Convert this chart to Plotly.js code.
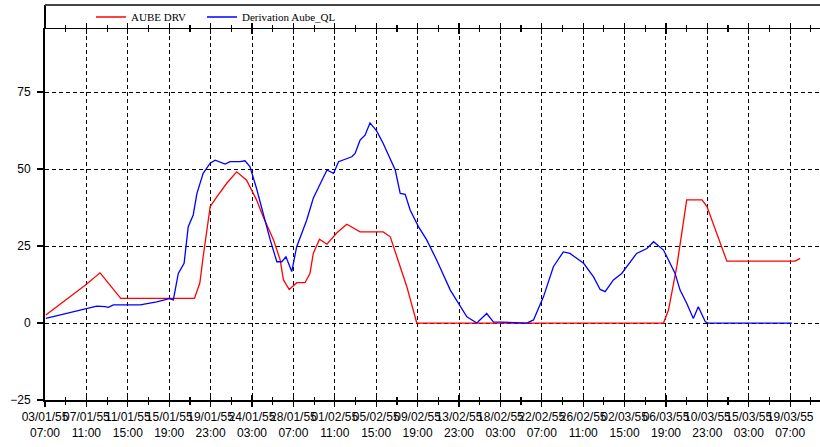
<!DOCTYPE html>
<html><head><meta charset="utf-8">
<script src="https://cdn.plot.ly/plotly-3.0.1.min.js"></script>
<style>html,body{margin:0;padding:0;background:#fff}#chart{width:820px;height:447px}</style>
</head><body><div id="chart"></div>
<script>
// x values: hours since 03/01/55 07:00
const tickHours = [0,100,200,300,400,500,600,700,800,900,1000,1100,1200,1300,1400,1500,1600,1700,1800];
const tickDates = ['03/01/55','07/01/55','11/01/55','15/01/55','19/01/55','24/01/55','28/01/55','01/02/55','05/02/55','09/02/55','13/02/55','18/02/55','22/02/55','26/02/55','02/03/55','06/03/55','10/03/55','15/03/55','19/03/55'];
const tickTimes = ['07:00','11:00','15:00','19:00','23:00','03:00','07:00','11:00','15:00','19:00','23:00','03:00','07:00','11:00','15:00','19:00','23:00','03:00','07:00'];
const yTicks = [-25,0,25,50,75];

const aubeHours = [2,97,133,183,361,374,382,399,415,439,463,487,511,527,552,568,576,590,608,628,640,648,663,681,705,729,761,817,834,850,874,898,1494,1506,1526,1550,1587,1599,1647,1812,1824];
const aubeValues = [2.6,12.3,16.3,8,8,13,21.5,37.8,41,45.4,49.1,46.4,40,34.5,27,20.5,14,10.9,13.1,13.1,16.1,22.6,27.2,25.6,29.3,32.1,29.6,29.6,28,21.5,11.8,0,0,4.2,18.3,40,40,37.8,20.1,20.1,21];

const derivHours = [2,101,125,145,153,165,230,270,300,310,322,336,346,358,367,382,399,411,435,447,471,483,495,511,527,544,560,572,582,596,608,632,648,681,697,709,741,749,761,773,785,801,817,846,858,870,882,902,922,946,979,1019,1043,1067,1083,1164,1180,1204,1228,1252,1268,1301,1325,1341,1353,1373,1393,1405,1429,1454,1470,1494,1510,1522,1534,1550,1566,1578,1595,1602,1804];
const derivValues = [1.5,4.8,5.5,5.3,5.1,5.9,5.9,6.9,7.9,7.5,16.1,19.4,31.3,35.1,42.1,48.6,51.9,52.9,51.6,52.4,52.4,52.7,50.8,43.7,35.6,27,19.9,19.9,21.5,16.7,24.8,33.4,40.5,49.7,48.6,52.4,54,55.1,59.4,61,65,62.4,58.3,49.7,42.1,41.8,36.7,31.3,27,20.5,10.7,2,0,3.1,0.4,0,1,8.5,18.3,23.1,22.6,19.4,15,10.9,10.2,14,16.1,18.3,22.6,24.2,26.4,23.7,19.4,16.1,10.7,6.4,1.5,5.3,0.4,0,0];

const xRange = [0, 1872];
const yRange = [-25, 95.5];
const tickFont = {family: 'Liberation Sans, Arial, sans-serif', size: 12, color: '#000'};
const legendFont = {family: 'Liberation Serif, Times New Roman, serif', size: 11, color: '#000'};

const traces = [
  {x: aubeHours, y: aubeValues, type: 'scatter', mode: 'lines', name: 'AUBE DRV',
   line: {color: '#ff0000', width: 1.3}, legend: 'legend'},
  {x: derivHours, y: derivValues, type: 'scatter', mode: 'lines', name: 'Derivation Aube_QL',
   line: {color: '#0000ff', width: 1.3}, legend: 'legend2'},
  // invisible trace to carry the second (inside-tick / time-label) axis
  {x: xRange, y: [null, null], xaxis: 'x2', yaxis: 'y', showlegend: false, hoverinfo: 'skip', mode: 'lines'}
];

const topY = 1 + 24/371;
const legY = 1 + 12/371;

const layout = {
  width: 820, height: 447,
  margin: {l: 45, r: 0, t: 29, b: 47},
  paper_bgcolor: '#fff', plot_bgcolor: '#fff',
  showlegend: true,
  legend: {orientation: 'h', x: 46/775, xanchor: 'left', y: legY, yanchor: 'middle',
           font: legendFont, bgcolor: 'rgba(0,0,0,0)'},
  legend2: {orientation: 'h', x: 157/775, xanchor: 'left', y: legY, yanchor: 'middle',
           font: legendFont, bgcolor: 'rgba(0,0,0,0)'},
  xaxis: {
    range: xRange, tickmode: 'array', tickvals: tickHours, ticktext: tickDates,
    tickangle: 0,
    ticks: 'outside', ticklen: 5, tickwidth: 1.3, tickcolor: '#000',
    showline: true, linecolor: '#000', linewidth: 1.5, mirror: 'allticks',
    showgrid: true, gridcolor: '#000', gridwidth: 1, griddash: '4px,3px',
    zeroline: false, tickfont: tickFont, ticklabelstandoff: 0,
    minor: {dtick: 50, tick0: 0, ticks: 'outside', ticklen: 3, tickwidth: 1.2, tickcolor: '#000', showgrid: false}
  },
  xaxis2: {
    overlaying: 'x', anchor: 'y', side: 'bottom',
    range: xRange, tickmode: 'array', tickvals: tickHours, ticktext: tickTimes,
    tickangle: 0,
    ticks: 'inside', ticklen: 5, tickwidth: 1.3, tickcolor: '#000',
    showline: false, mirror: 'allticks', showgrid: false, zeroline: false,
    tickfont: tickFont, ticklabelstandoff: 24,
    minor: {dtick: 50, tick0: 0, ticks: 'inside', ticklen: 3, tickwidth: 1.2, tickcolor: '#000', showgrid: false}
  },
  yaxis: {
    range: yRange, tickmode: 'array', tickvals: yTicks,
    ticks: 'outside', ticklen: 6, tickwidth: 1.3, tickcolor: '#000',
    showline: true, linecolor: '#000', linewidth: 2,
    showgrid: true, gridcolor: '#000', gridwidth: 1, griddash: '4px,3px',
    zeroline: false, tickfont: tickFont, ticklabelstandoff: 4
  },
  shapes: [
    {type: 'line', xref: 'paper', yref: 'paper', x0: 0, x1: 0, y0: 1, y1: topY, line: {color: '#000', width: 2}},
    {type: 'line', xref: 'paper', yref: 'paper', x0: 0, x1: 1, y0: topY, y1: topY, line: {color: '#444', width: 2}}
  ]
};

Plotly.newPlot('chart', traces, layout, {staticPlot: true, displayModeBar: false});
</script>
</body></html>
